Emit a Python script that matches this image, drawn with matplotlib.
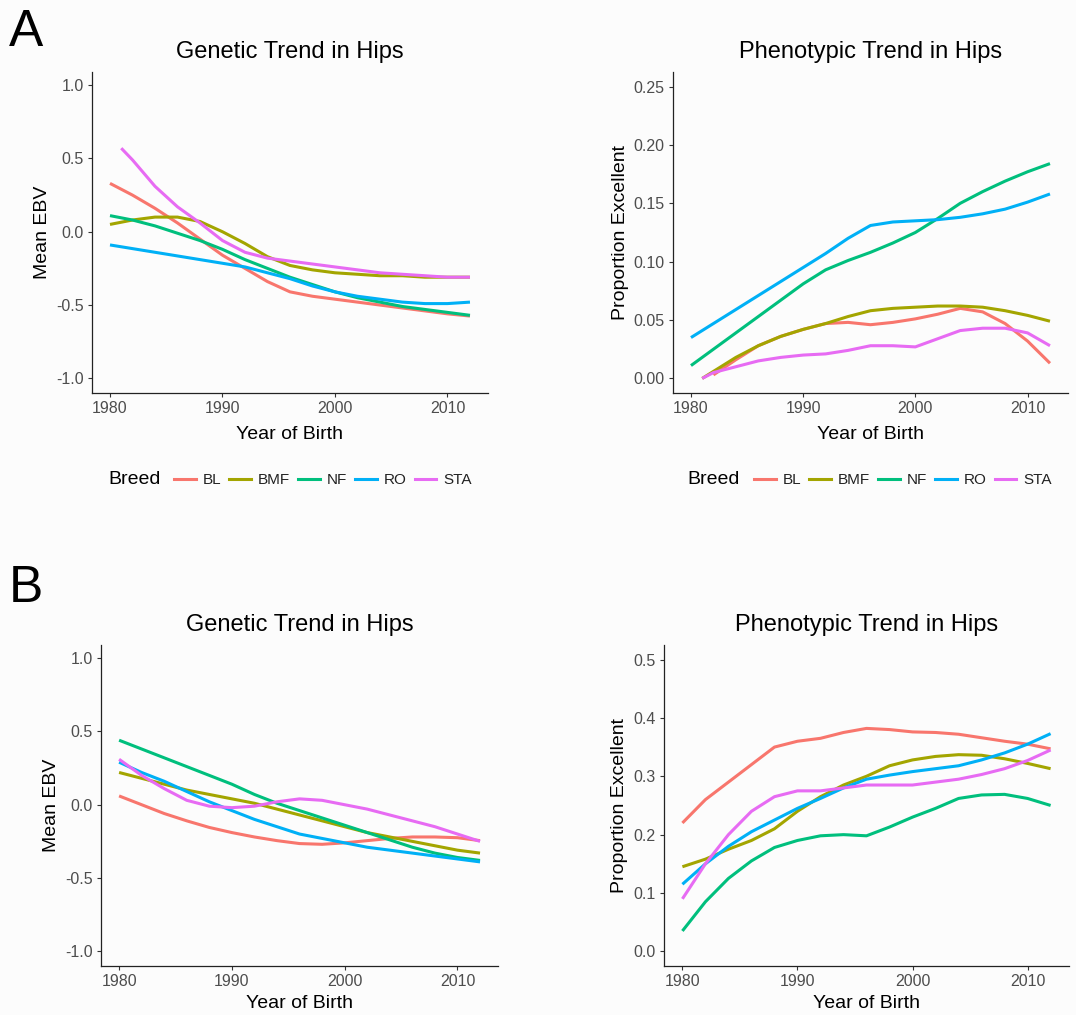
import numpy as np
import matplotlib.pyplot as plt
from matplotlib.lines import Line2D

# years every 2 from 1980 to 2012
years = list(range(1980, 2013, 2))
years_81 = [1981] + years[1:]
years_82 = years[1:]

breeds = ['BL', 'BMF', 'NF', 'RO', 'STA']
colors = ['#F8766D', '#A3A500', '#00BF7D', '#00B0F6', '#E76BF3']

# A: genetic trend (mean EBV)
gen_a_bl = [0.33, 0.25, 0.16, 0.06, -0.05, -0.16, -0.25, -0.34, -0.41, -0.44, -0.46, -0.48, -0.50, -0.52, -0.54, -0.56, -0.575]
gen_a_bmf = [0.05, 0.08, 0.10, 0.10, 0.07, 0.0, -0.08, -0.17, -0.23, -0.26, -0.28, -0.29, -0.30, -0.30, -0.31, -0.31, -0.31]
gen_a_nf = [0.11, 0.08, 0.04, -0.01, -0.06, -0.12, -0.19, -0.25, -0.31, -0.36, -0.41, -0.45, -0.48, -0.51, -0.53, -0.55, -0.57]
gen_a_ro = [-0.09, -0.115, -0.14, -0.165, -0.19, -0.215, -0.24, -0.28, -0.32, -0.37, -0.41, -0.44, -0.46, -0.48, -0.49, -0.49, -0.48]
gen_a_sta = [0.57, 0.49, 0.31, 0.17, 0.06, -0.06, -0.14, -0.18, -0.20, -0.22, -0.24, -0.26, -0.28, -0.29, -0.30, -0.31, -0.31]

# A: phenotypic trend (proportion excellent)
phen_a_bl = [0.003, 0.016, 0.028, 0.036, 0.042, 0.047, 0.048, 0.046, 0.048, 0.051, 0.055, 0.060, 0.057, 0.047, 0.032, 0.013]
phen_a_bmf = [0.0, 0.006, 0.018, 0.028, 0.036, 0.042, 0.047, 0.053, 0.058, 0.060, 0.061, 0.062, 0.062, 0.061, 0.058, 0.054, 0.049]
phen_a_nf = [0.011, 0.025, 0.039, 0.053, 0.067, 0.081, 0.093, 0.101, 0.108, 0.116, 0.125, 0.137, 0.150, 0.160, 0.169, 0.177, 0.184]
phen_a_ro = [0.035, 0.047, 0.059, 0.071, 0.083, 0.095, 0.107, 0.120, 0.131, 0.134, 0.135, 0.136, 0.138, 0.141, 0.145, 0.151, 0.158]
phen_a_sta = [0.0, 0.005, 0.010, 0.015, 0.018, 0.020, 0.021, 0.024, 0.028, 0.028, 0.027, 0.034, 0.041, 0.043, 0.043, 0.039, 0.028]

# B: genetic trend
gen_b_bl = [0.06, 0.0, -0.06, -0.11, -0.155, -0.19, -0.22, -0.245, -0.265, -0.27, -0.26, -0.245, -0.23, -0.22, -0.22, -0.225, -0.245]
gen_b_bmf = [0.22, 0.18, 0.14, 0.10, 0.07, 0.04, 0.01, -0.03, -0.07, -0.11, -0.15, -0.19, -0.22, -0.25, -0.28, -0.31, -0.33]
gen_b_nf = [0.44, 0.38, 0.32, 0.26, 0.20, 0.14, 0.07, 0.01, -0.04, -0.09, -0.14, -0.19, -0.24, -0.29, -0.33, -0.36, -0.38]
gen_b_ro = [0.29, 0.22, 0.16, 0.09, 0.02, -0.04, -0.10, -0.15, -0.20, -0.23, -0.26, -0.29, -0.31, -0.33, -0.35, -0.37, -0.39]
gen_b_sta = [0.31, 0.20, 0.11, 0.03, -0.01, -0.02, -0.01, 0.02, 0.04, 0.03, 0.0, -0.03, -0.07, -0.11, -0.15, -0.20, -0.25]

# B: phenotypic trend
phen_b_bl = [0.22, 0.26, 0.29, 0.32, 0.35, 0.36, 0.365, 0.375, 0.382, 0.38, 0.376, 0.375, 0.372, 0.366, 0.36, 0.355, 0.347]
phen_b_bmf = [0.145, 0.158, 0.175, 0.19, 0.21, 0.24, 0.265, 0.285, 0.30, 0.318, 0.328, 0.334, 0.337, 0.336, 0.33, 0.322, 0.313]
phen_b_nf = [0.035, 0.085, 0.125, 0.155, 0.178, 0.19, 0.198, 0.20, 0.198, 0.213, 0.23, 0.245, 0.262, 0.268, 0.269, 0.262, 0.25]
phen_b_ro = [0.115, 0.15, 0.18, 0.205, 0.225, 0.245, 0.262, 0.28, 0.295, 0.302, 0.308, 0.313, 0.318, 0.328, 0.34, 0.355, 0.373]
phen_b_sta = [0.09, 0.15, 0.20, 0.24, 0.265, 0.275, 0.275, 0.28, 0.285, 0.285, 0.285, 0.29, 0.295, 0.303, 0.313, 0.327, 0.345]

ebv_ticks = [-1.0, -0.5, 0.0, 0.5, 1.0]
ebv_labels = ['-1.0', '-0.5', '0.0', '0.5', '1.0']
pa_ticks = [0.0, 0.05, 0.10, 0.15, 0.20, 0.25]
pa_labels = ['0.00', '0.05', '0.10', '0.15', '0.20', '0.25']
pb_ticks = [0.0, 0.1, 0.2, 0.3, 0.4, 0.5]
pb_labels = ['0.0', '0.1', '0.2', '0.3', '0.4', '0.5']
x_ticks = [1980, 1990, 2000, 2010]

plt.rcParams['font.family'] = ['Liberation Sans', 'DejaVu Sans']
bg = '#fcfcfc'
fig = plt.figure(figsize=(10.76, 10.15), dpi=100, facecolor=bg)


def panel(rect, series, title, ylabel, yticks, ylabels, ylim, xpad=7):
    ax = fig.add_axes(rect, facecolor=bg)
    for (xs, ys), c in zip(series, colors):
        ax.plot(xs, ys, color=c, lw=2.2, solid_capstyle='butt')
    ax.set_xlim(1978.4, 2013.6)
    ax.set_ylim(*ylim)
    ax.set_xticks(x_ticks)
    ax.set_yticks(yticks)
    ax.set_yticklabels(ylabels)
    for s in ['top', 'right']:
        ax.spines[s].set_visible(False)
    for s in ['left', 'bottom']:
        ax.spines[s].set_linewidth(0.9)
        ax.spines[s].set_color('#222222')
    ax.tick_params(length=3, width=0.8, color='#333333', labelsize=11.5,
                   labelcolor='#4d4d4d', pad=3)
    ax.set_title(title, fontsize=17, pad=10)
    ax.set_xlabel('Year of Birth', fontsize=14, labelpad=xpad)
    ax.set_ylabel(ylabel, fontsize=14, labelpad=3.5)
    return ax


ax1 = panel([0.0855, 0.6128, 0.368, 0.3163],
            [(years, gen_a_bl), (years, gen_a_bmf), (years, gen_a_nf), (years, gen_a_ro), (years_81, gen_a_sta)],
            'Genetic Trend in Hips', 'Mean EBV', ebv_ticks, ebv_labels, (-1.1, 1.09))
ax2 = panel([0.6255, 0.6128, 0.367, 0.3163],
            [(years_82, phen_a_bl), (years_81, phen_a_bmf), (years, phen_a_nf), (years, phen_a_ro), (years_81, phen_a_sta)],
            'Phenotypic Trend in Hips', 'Proportion Excellent', pa_ticks, pa_labels, (-0.0125, 0.2625))
ax3 = panel([0.0939, 0.0483, 0.369, 0.3163],
            [(years, gen_b_bl), (years, gen_b_bmf), (years, gen_b_nf), (years, gen_b_ro), (years, gen_b_sta)],
            'Genetic Trend in Hips', 'Mean EBV', ebv_ticks, ebv_labels, (-1.1, 1.09), xpad=4)
ax4 = panel([0.6171, 0.0483, 0.3764, 0.3163],
            [(years, phen_b_bl), (years, phen_b_bmf), (years, phen_b_nf), (years, phen_b_ro), (years, phen_b_sta)],
            'Phenotypic Trend in Hips', 'Proportion Excellent', pb_ticks, pb_labels, (-0.025, 0.525), xpad=4)

# legends under the top panels
handles = [Line2D([], [], color=c, lw=2.2) for c in colors]
for ax, xc in [(ax1, 0.30), (ax2, 0.839)]:
    leg = fig.legend(handles, breeds, loc='center', bbox_to_anchor=(xc, 1 - 480 / 1015),
                     ncol=5, frameon=False, fontsize=11, handlelength=1.4,
                     handletextpad=0.45, columnspacing=0.55)
    for t in leg.get_texts():
        t.set_color('#222222')

fig.text(108 / 1076, 1 - 480 / 1015, 'Breed', fontsize=14, va='center', ha='left')
fig.text(687 / 1076, 1 - 480 / 1015, 'Breed', fontsize=14, va='center', ha='left')

fig.text(0.008, 1 - 33 / 1015, 'A', fontsize=37, va='center', ha='left')
fig.text(0.008, 1 - 589 / 1015, 'B', fontsize=37, va='center', ha='left')

fig.savefig('out.png', dpi=100, facecolor=bg)
